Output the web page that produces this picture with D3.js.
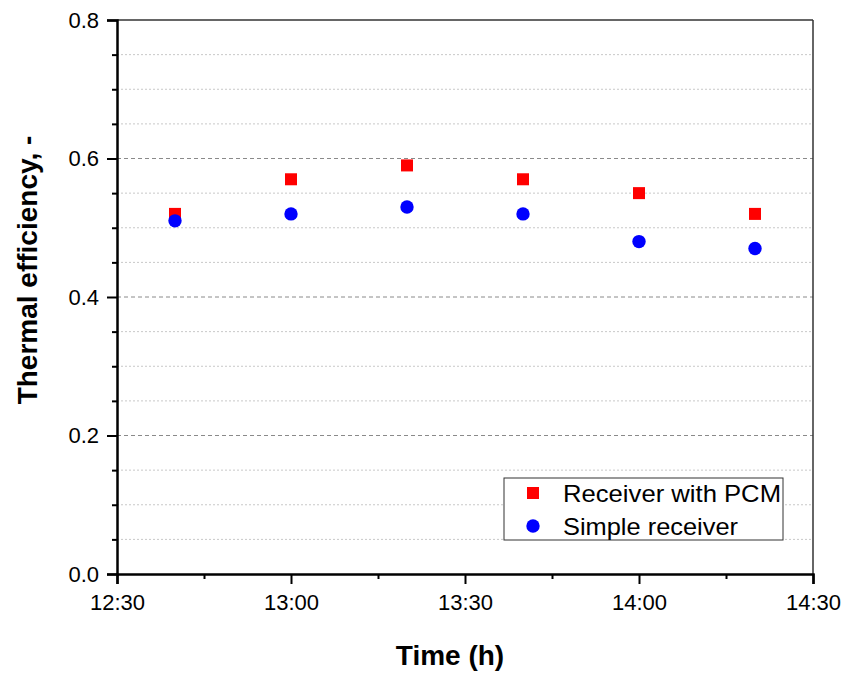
<!DOCTYPE html>
<html>
<head>
<meta charset="utf-8">
<script src="https://cdn.jsdelivr.net/npm/d3@7/dist/d3.min.js"></script>
<style>
  html, body { margin: 0; padding: 0; background: #fff; }
  svg { display: block; font-family: "Liberation Sans", Arial, sans-serif; }
</style>
</head>
<body>
<svg id="chart" width="846" height="675"></svg>
<script>
// ---- data ----
const times = ["12:40", "13:00", "13:20", "13:40", "14:00", "14:20"];
const pcmValues = [0.52, 0.57, 0.59, 0.57, 0.55, 0.52];
const simpleValues = [0.51, 0.52, 0.53, 0.52, 0.48, 0.47];
const xTickLabels = ["12:30", "13:00", "13:30", "14:00", "14:30"];
const yTickValues = [0.0, 0.2, 0.4, 0.6, 0.8];
const seriesNames = ["Receiver with PCM", "Simple receiver"];

const toMin = s => { const [h, m] = s.split(":").map(Number); return h * 60 + m; };
const fmtTime = m => Math.floor(m / 60) + ":" + String(m % 60).padStart(2, "0");

const svg = d3.select("#chart");
const L = 117, R = 813, T = 20, B = 574;

const x = d3.scaleLinear().domain([toMin("12:30"), toMin("14:30")]).range([L, R]);
const y = d3.scaleLinear().domain([0, 0.8]).range([B, T]);

// minor gridlines (every 0.05)
const minorY = d3.range(0.05, 0.8, 0.05).filter(v => Math.abs(v / 0.2 - Math.round(v / 0.2)) > 1e-6);
svg.append("g").selectAll("line").data(minorY).join("line")
  .attr("x1", L).attr("x2", R)
  .attr("y1", d => y(d)).attr("y2", d => y(d))
  .attr("stroke", "#c8c8c8").attr("stroke-width", 1).attr("stroke-dasharray", "2,2");

// major gridlines
svg.append("g").selectAll("line").data(yTickValues.filter(v => v > 0 && v < 0.8)).join("line")
  .attr("x1", L).attr("x2", R)
  .attr("y1", d => y(d)).attr("y2", d => y(d))
  .attr("stroke", "#8a8a8a").attr("stroke-width", 1).attr("stroke-dasharray", "4,3");

// frame top/right
svg.append("line").attr("x1", L).attr("x2", R).attr("y1", T).attr("y2", T)
  .attr("stroke", "#333").attr("stroke-width", 1.5);
svg.append("line").attr("x1", R).attr("x2", R).attr("y1", T).attr("y2", B)
  .attr("stroke", "#333").attr("stroke-width", 1.5);

// x axis
const xMajor = xTickLabels.map(toMin);
const xMinor = d3.range(toMin("12:45"), toMin("14:30"), 30);
const xAxis = d3.axisBottom(x).tickValues(xMajor).tickFormat(fmtTime).tickSize(10).tickPadding(10);
const gx = svg.append("g").attr("transform", `translate(0,${B})`).call(xAxis);
gx.select(".domain").attr("stroke", "#000").attr("stroke-width", 2.5);
gx.selectAll(".tick line").attr("stroke", "#000").attr("stroke-width", 2);
gx.selectAll(".tick text").attr("font-size", 22).attr("fill", "#000")
  .attr("font-family", "'Liberation Sans', Arial, sans-serif");
svg.append("g").attr("transform", `translate(0,${B})`)
  .call(d3.axisBottom(x).tickValues(xMinor).tickSize(5).tickFormat(""))
  .call(g => g.select(".domain").remove())
  .selectAll(".tick line").attr("stroke", "#000").attr("stroke-width", 2);

// y axis
const yAxis = d3.axisLeft(y).tickValues(yTickValues).tickFormat(d3.format(".1f")).tickSize(10).tickPadding(8);
const gy = svg.append("g").attr("transform", `translate(${L},0)`).call(yAxis);
gy.select(".domain").attr("stroke", "#000").attr("stroke-width", 2.5);
gy.selectAll(".tick line").attr("stroke", "#000").attr("stroke-width", 2);
gy.selectAll(".tick text").attr("font-size", 22).attr("fill", "#000")
  .attr("font-family", "'Liberation Sans', Arial, sans-serif");
svg.append("g").attr("transform", `translate(${L},0)`)
  .call(d3.axisLeft(y).tickValues(minorY).tickSize(5).tickFormat(""))
  .call(g => g.select(".domain").remove())
  .selectAll(".tick line").attr("stroke", "#000").attr("stroke-width", 2);

// axis titles
svg.append("text").attr("x", 450).attr("y", 665).attr("text-anchor", "middle")
  .attr("font-size", 28).attr("font-weight", "bold").text("Time (h)");
svg.append("text").attr("transform", "translate(37,270) rotate(-90)").attr("text-anchor", "middle")
  .attr("font-size", 28).attr("font-weight", "bold").text("Thermal efficiency, -");

// data points
const sq = 12;
svg.append("g").selectAll("rect").data(times.map((t, i) => ({ t, v: pcmValues[i] }))).join("rect")
  .attr("x", d => x(toMin(d.t)) - sq / 2).attr("y", d => y(d.v) - sq / 2)
  .attr("width", sq).attr("height", sq).attr("fill", "#ff0000");
svg.append("g").selectAll("circle").data(times.map((t, i) => ({ t, v: simpleValues[i] }))).join("circle")
  .attr("cx", d => x(toMin(d.t))).attr("cy", d => y(d.v)).attr("r", 6.7).attr("fill", "#0000ff");

// legend
const lg = svg.append("g");
lg.append("rect").attr("x", 504).attr("y", 478).attr("width", 279).attr("height", 62)
  .attr("fill", "#fff").attr("stroke", "#333").attr("stroke-width", 1);
lg.append("rect").attr("x", 533 - sq / 2).attr("y", 493 - sq / 2).attr("width", sq).attr("height", sq).attr("fill", "#ff0000");
lg.append("circle").attr("cx", 533).attr("cy", 526).attr("r", 6.7).attr("fill", "#0000ff");
lg.append("text").attr("x", 563).attr("y", 502).attr("font-size", 24)
  .attr("textLength", 218).attr("lengthAdjust", "spacingAndGlyphs").text(seriesNames[0]);
lg.append("text").attr("x", 563).attr("y", 535).attr("font-size", 24)
  .attr("textLength", 175).attr("lengthAdjust", "spacingAndGlyphs").text(seriesNames[1]);
</script>
</body>
</html>
